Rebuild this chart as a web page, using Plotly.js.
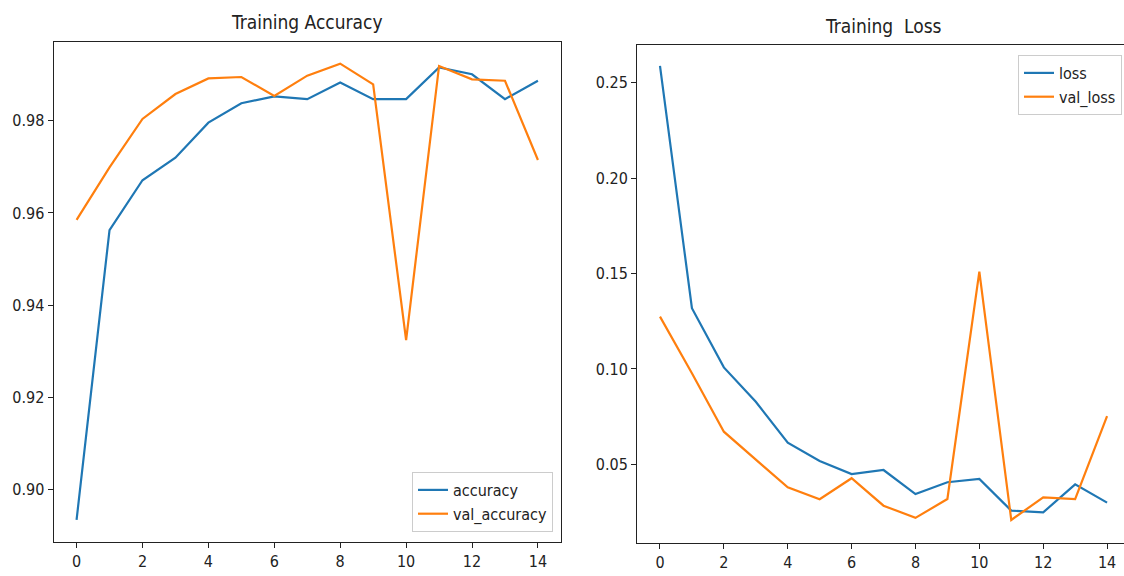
<!DOCTYPE html>
<html>
<head>
<meta charset="utf-8">
<script src="https://cdn.plot.ly/plotly-3.0.1.min.js"></script>
<style>html,body{margin:0;padding:0;background:#fff;}#chart{width:1124px;height:576px;}</style>
</head>
<body>
<div id="chart"></div>
<script>
const epochs = [0,1,2,3,4,5,6,7,8,9,10,11,12,13,14];
const accuracy = [0.8934,0.9563,0.9671,0.9720,0.9796,0.9838,0.9853,0.9847,0.9883,0.9847,0.9847,0.9916,0.9901,0.9847,0.9887];
const valAccuracy = [0.9585,0.9699,0.9804,0.9858,0.9892,0.9895,0.9854,0.9898,0.9924,0.9879,0.9324,0.9919,0.9890,0.9887,0.9715];
const loss = [0.2588,0.1318,0.1008,0.0828,0.0613,0.0517,0.0449,0.0470,0.0344,0.0406,0.0423,0.0257,0.0248,0.0395,0.0299];
const valLoss = [0.1274,0.0977,0.0671,0.0523,0.0379,0.0317,0.0427,0.0283,0.0219,0.0318,0.1510,0.0208,0.0327,0.0318,0.0753];
const titles = ["Training Accuracy", "Training  Loss"];
const names = ["accuracy","val_accuracy","loss","val_loss"];

const FONT = '"DejaVu Sans Condensed", "DejaVu Sans", sans-serif';
const BLUE = '#1f77b4', ORANGE = '#ff7f0e';
const W = 1124, H = 576;

const traces = [
  {x: epochs, y: accuracy, name: names[0], mode: 'lines', line: {color: BLUE, width: 2.2}, xaxis: 'x', yaxis: 'y', legend: 'legend'},
  {x: epochs, y: valAccuracy, name: names[1], mode: 'lines', line: {color: ORANGE, width: 2.2}, xaxis: 'x', yaxis: 'y', legend: 'legend'},
  {x: epochs, y: loss, name: names[2], mode: 'lines', line: {color: BLUE, width: 2.2}, xaxis: 'x2', yaxis: 'y2', legend: 'legend2'},
  {x: epochs, y: valLoss, name: names[3], mode: 'lines', line: {color: ORANGE, width: 2.2}, xaxis: 'x2', yaxis: 'y2', legend: 'legend2'}
];

const axBase = {
  showgrid: false, zeroline: false, showline: true, linecolor: '#222', linewidth: 1,
  ticks: 'outside', ticklen: 5, tickwidth: 1, tickcolor: '#222',
  tickfont: {family: FONT, size: 16, color: '#222'}
};

const layout = {
  width: W, height: H,
  margin: {l: 0, r: 0, t: 0, b: 0},
  paper_bgcolor: '#fff', plot_bgcolor: '#fff',
  showlegend: true,
  font: {family: FONT, size: 16, color: '#222'},
  xaxis: Object.assign({}, axBase, {domain: [53.5/W, 561/W], range: [-0.7, 14.7], dtick: 2, tick0: 0, mirror: true, anchor: 'y'}),
  yaxis: Object.assign({}, axBase, {domain: [(H-542)/H, (H-42)/H], range: [0.8886, 0.9971], dtick: 0.02, tick0: 0.9, tickformat: '.2f', mirror: true, anchor: 'x'}),
  xaxis2: Object.assign({}, axBase, {domain: [637/W, 1], range: [-0.72, 14.53], dtick: 2, tick0: 0, mirror: true, anchor: 'y2'}),
  yaxis2: Object.assign({}, axBase, {domain: [(H-542.7)/H, (H-45)/H], range: [0.0089, 0.2698], dtick: 0.05, tick0: 0, tickformat: '.2f', mirror: false, anchor: 'x2'}),
  legend: {x: 553/W, y: (H-532)/H, xanchor: 'right', yanchor: 'bottom', bgcolor: 'rgba(255,255,255,0.8)', bordercolor: '#cccccc', borderwidth: 1, font: {family: FONT, size: 16, color: '#222'}},
  legend2: {x: 1122/W, y: (H-55)/H, xanchor: 'right', yanchor: 'top', bgcolor: 'rgba(255,255,255,0.8)', bordercolor: '#cccccc', borderwidth: 1, font: {family: FONT, size: 16, color: '#222'}},
  annotations: [
    {text: titles[0], xref: 'paper', yref: 'paper', x: 307/W, y: (H-22)/H, xanchor: 'center', yanchor: 'middle', showarrow: false, font: {family: FONT, size: 19, color: '#222'}},
    {text: titles[1].replace('  ', '&nbsp; '), xref: 'paper', yref: 'paper', x: 883/W, y: (H-26)/H, xanchor: 'center', yanchor: 'middle', showarrow: false, font: {family: FONT, size: 19, color: '#222'}}
  ]
};

Plotly.newPlot('chart', traces, layout, {displayModeBar: false, staticPlot: true});
</script>
</body>
</html>
